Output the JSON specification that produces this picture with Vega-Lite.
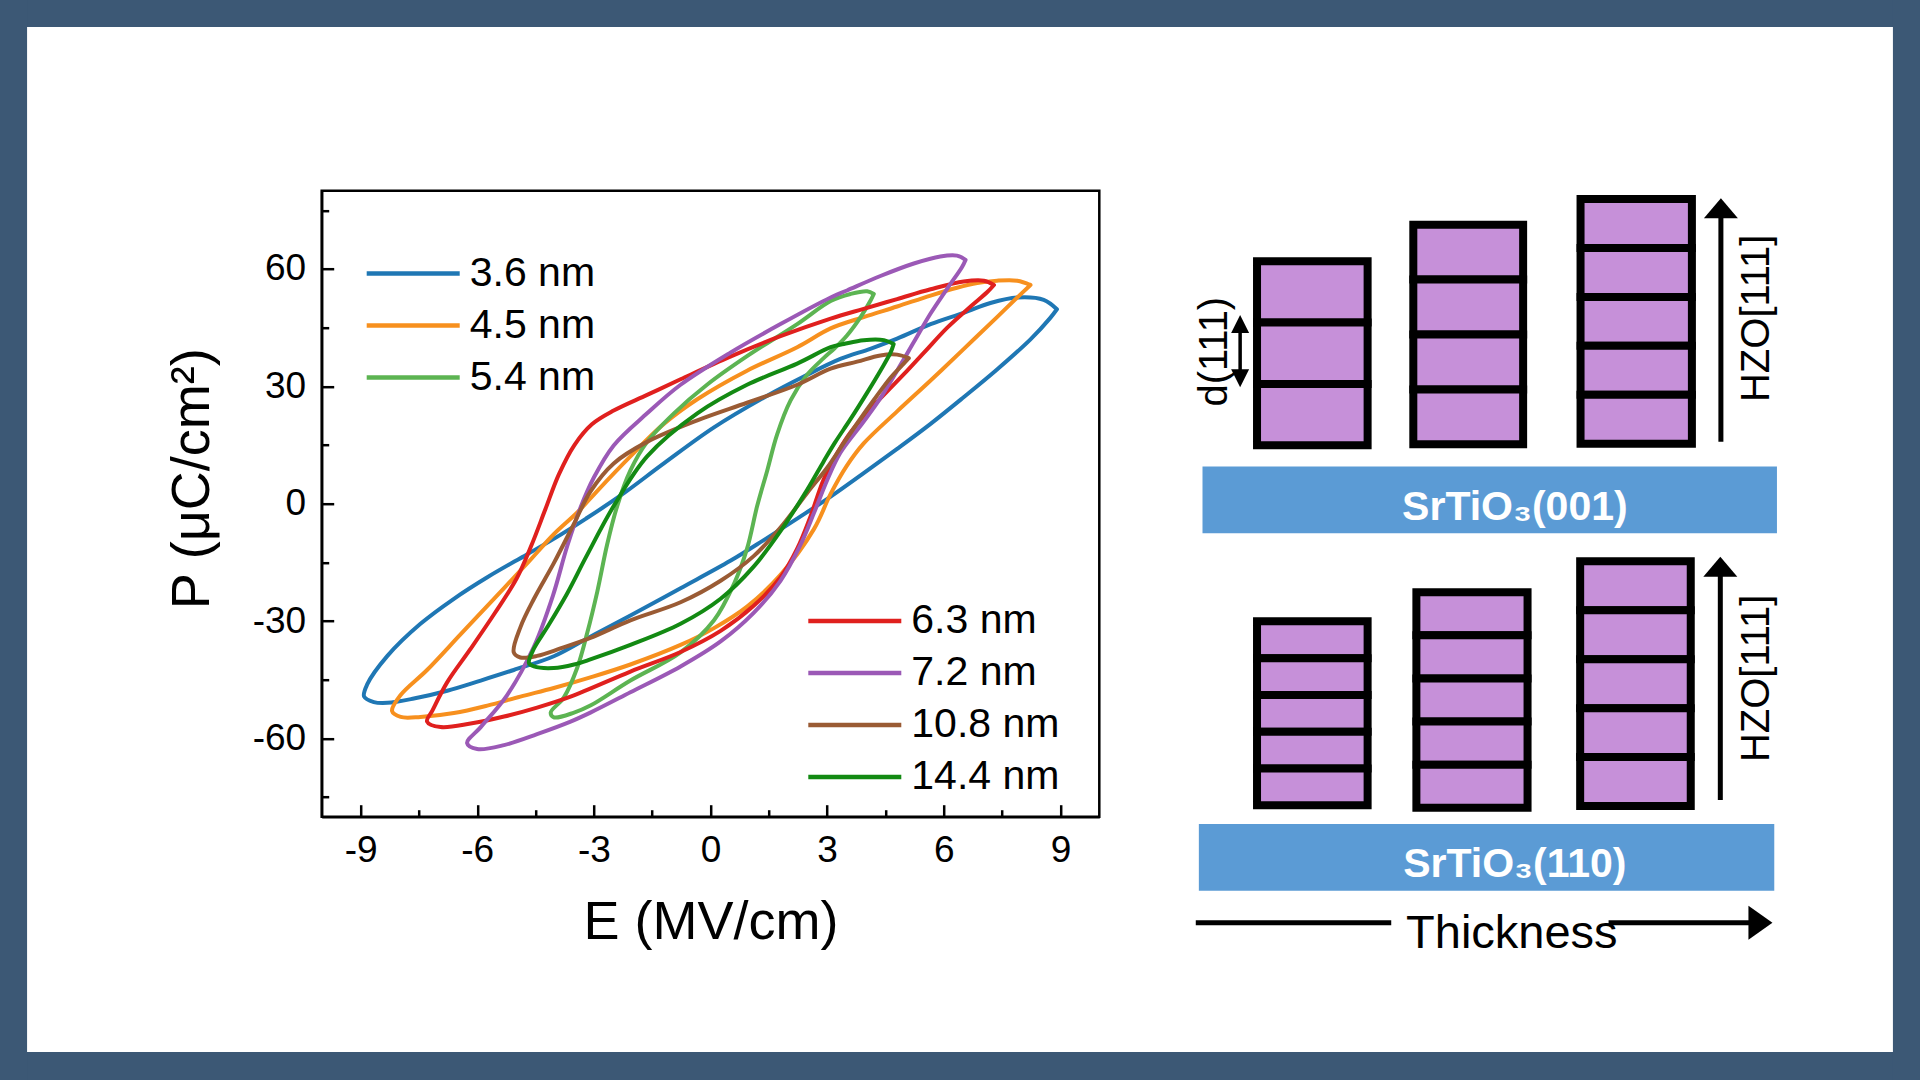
{
  "$schema": "https://vega.github.io/schema/vega-lite/v6.json",
  "width": 777.6,
  "height": 626,
  "autosize": {"type": "none"},
  "padding": {"left": 321.7, "top": 190.7, "right": 820.7, "bottom": 263.3},
  "background": "white",
  "config": {
    "font": "Liberation Sans",
    "view": {"stroke": "black", "strokeWidth": 2.5},
    "axis": {"zindex": 1, "grid": false}
  },
  "datasets": {
    "page": [
      {"kind": "frame", "x": 0, "x2": 100, "y": 0, "y2": 2.5},
      {"kind": "frame", "x": 0, "x2": 100, "y": 97.41, "y2": 100},
      {"kind": "frame", "x": 0, "x2": 1.41, "y": 0, "y2": 100},
      {"kind": "frame", "x": 98.59, "x2": 100, "y": 0, "y2": 100},
      {"kind": "substrate", "x": 62.63, "x2": 92.55, "y": 43.19, "y2": 49.38},
      {"kind": "substrate", "x": 62.44, "x2": 92.41, "y": 76.30, "y2": 82.47},
      {"kind": "cell", "x": 65.47, "x2": 71.23, "y": 24.19, "y2": 29.87},
      {"kind": "cell", "x": 65.47, "x2": 71.23, "y": 29.87, "y2": 35.55},
      {"kind": "cell", "x": 65.47, "x2": 71.23, "y": 35.55, "y2": 41.23},
      {"kind": "cell", "x": 73.61, "x2": 79.33, "y": 20.81, "y2": 25.89},
      {"kind": "cell", "x": 73.61, "x2": 79.33, "y": 25.89, "y2": 30.97},
      {"kind": "cell", "x": 73.61, "x2": 79.33, "y": 30.97, "y2": 36.06},
      {"kind": "cell", "x": 73.61, "x2": 79.33, "y": 36.06, "y2": 41.14},
      {"kind": "cell", "x": 82.32, "x2": 88.12, "y": 18.43, "y2": 22.96},
      {"kind": "cell", "x": 82.32, "x2": 88.12, "y": 22.96, "y2": 27.49},
      {"kind": "cell", "x": 82.32, "x2": 88.12, "y": 27.49, "y2": 32.02},
      {"kind": "cell", "x": 82.32, "x2": 88.12, "y": 32.02, "y2": 36.55},
      {"kind": "cell", "x": 82.32, "x2": 88.12, "y": 36.55, "y2": 41.08},
      {"kind": "cell", "x": 65.47, "x2": 71.23, "y": 57.53, "y2": 60.94},
      {"kind": "cell", "x": 65.47, "x2": 71.23, "y": 60.94, "y2": 64.34},
      {"kind": "cell", "x": 65.47, "x2": 71.23, "y": 64.34, "y2": 67.75},
      {"kind": "cell", "x": 65.47, "x2": 71.23, "y": 67.75, "y2": 71.16},
      {"kind": "cell", "x": 65.47, "x2": 71.23, "y": 71.16, "y2": 74.56},
      {"kind": "cell", "x": 73.77, "x2": 79.56, "y": 54.84, "y2": 58.83},
      {"kind": "cell", "x": 73.77, "x2": 79.56, "y": 58.83, "y2": 62.82},
      {"kind": "cell", "x": 73.77, "x2": 79.56, "y": 62.82, "y2": 66.81},
      {"kind": "cell", "x": 73.77, "x2": 79.56, "y": 66.81, "y2": 70.80},
      {"kind": "cell", "x": 73.77, "x2": 79.56, "y": 70.80, "y2": 74.79},
      {"kind": "cell", "x": 82.30, "x2": 88.06, "y": 51.97, "y2": 56.50},
      {"kind": "cell", "x": 82.30, "x2": 88.06, "y": 56.50, "y2": 61.04},
      {"kind": "cell", "x": 82.30, "x2": 88.06, "y": 61.04, "y2": 65.57},
      {"kind": "cell", "x": 82.30, "x2": 88.06, "y": 65.57, "y2": 70.10},
      {"kind": "cell", "x": 82.30, "x2": 88.06, "y": 70.10, "y2": 74.63},
      {"kind": "shaft", "x": 89.63, "x2": 89.63, "y": 40.90, "y2": 19.5},
      {"kind": "shaft", "x": 89.60, "x2": 89.60, "y": 74.07, "y2": 52.7},
      {"kind": "shaft", "x": 62.28, "x2": 72.46, "y": 85.44, "y2": 85.44},
      {"kind": "shaft", "x": 83.78, "x2": 91.6, "y": 85.44, "y2": 85.44},
      {"kind": "dshaft", "x": 64.59, "x2": 64.59, "y": 30.2, "y2": 34.8},
      {"kind": "head", "dir": "up", "x": 89.63, "y": 19.29},
      {"kind": "head", "dir": "up", "x": 89.60, "y": 52.47},
      {"kind": "head", "dir": "dup", "x": 64.59, "y": 30.0},
      {"kind": "head", "dir": "ddown", "x": 64.59, "y": 35.03},
      {"kind": "head", "dir": "right", "x": 91.69, "y": 85.44},
      {"kind": "sub", "x": 78.90, "y": 48.15, "text": "SrTiO₃(001)"},
      {"kind": "sub", "x": 78.90, "y": 81.18, "text": "SrTiO₃(110)"},
      {"kind": "vert", "x": 63.3, "y": 32.56, "text": "d(111)"},
      {"kind": "vert", "x": 91.5, "y": 29.47, "text": "HZO[111]"},
      {"kind": "vert", "x": 91.5, "y": 62.81, "text": "HZO[111]"},
      {"kind": "caption", "x": 78.74, "y": 87.81, "text": "Thickness"}
    ],
    "loops": [
      {"s": "3.6 nm", "i": 0, "E": 8.91, "P": 49.7},
      {"s": "3.6 nm", "i": 1, "E": 8.57, "P": 52.1},
      {"s": "3.6 nm", "i": 2, "E": 7.89, "P": 52.7},
      {"s": "3.6 nm", "i": 3, "E": 7.20, "P": 51.3},
      {"s": "3.6 nm", "i": 4, "E": 6.51, "P": 48.8},
      {"s": "3.6 nm", "i": 5, "E": 5.66, "P": 45.9},
      {"s": "3.6 nm", "i": 6, "E": 4.80, "P": 42.2},
      {"s": "3.6 nm", "i": 7, "E": 4.11, "P": 39.6},
      {"s": "3.6 nm", "i": 8, "E": 3.34, "P": 37.0},
      {"s": "3.6 nm", "i": 9, "E": 2.40, "P": 32.5},
      {"s": "3.6 nm", "i": 10, "E": 1.46, "P": 27.6},
      {"s": "3.6 nm", "i": 11, "E": 0.09, "P": 19.5},
      {"s": "3.6 nm", "i": 12, "E": -1.20, "P": 10.3},
      {"s": "3.6 nm", "i": 13, "E": -2.31, "P": 2.1},
      {"s": "3.6 nm", "i": 14, "E": -3.2, "P": -3.8},
      {"s": "3.6 nm", "i": 15, "E": -4.0, "P": -8.8},
      {"s": "3.6 nm", "i": 16, "E": -4.71, "P": -12.9},
      {"s": "3.6 nm", "i": 17, "E": -5.74, "P": -18.8},
      {"s": "3.6 nm", "i": 18, "E": -6.60, "P": -24.3},
      {"s": "3.6 nm", "i": 19, "E": -7.46, "P": -30.7},
      {"s": "3.6 nm", "i": 20, "E": -8.31, "P": -38.9},
      {"s": "3.6 nm", "i": 21, "E": -8.83, "P": -46.2},
      {"s": "3.6 nm", "i": 22, "E": -8.91, "P": -49.3},
      {"s": "3.6 nm", "i": 23, "E": -8.66, "P": -50.7},
      {"s": "3.6 nm", "i": 24, "E": -8.31, "P": -50.9},
      {"s": "3.6 nm", "i": 25, "E": -7.63, "P": -49.8},
      {"s": "3.6 nm", "i": 26, "E": -6.77, "P": -47.8},
      {"s": "3.6 nm", "i": 27, "E": -5.91, "P": -45.2},
      {"s": "3.6 nm", "i": 28, "E": -5.06, "P": -42.5},
      {"s": "3.6 nm", "i": 29, "E": -4.03, "P": -39.0},
      {"s": "3.6 nm", "i": 30, "E": -3.09, "P": -34.0},
      {"s": "3.6 nm", "i": 31, "E": -2.06, "P": -28.6},
      {"s": "3.6 nm", "i": 32, "E": -0.77, "P": -21.6},
      {"s": "3.6 nm", "i": 33, "E": 0.51, "P": -14.6},
      {"s": "3.6 nm", "i": 34, "E": 1.37, "P": -9.3},
      {"s": "3.6 nm", "i": 35, "E": 2.23, "P": -3.8},
      {"s": "3.6 nm", "i": 36, "E": 3.09, "P": 1.8},
      {"s": "3.6 nm", "i": 37, "E": 3.94, "P": 7.8},
      {"s": "3.6 nm", "i": 38, "E": 4.80, "P": 14.0},
      {"s": "3.6 nm", "i": 39, "E": 5.66, "P": 20.4},
      {"s": "3.6 nm", "i": 40, "E": 6.51, "P": 27.2},
      {"s": "3.6 nm", "i": 41, "E": 7.37, "P": 34.3},
      {"s": "3.6 nm", "i": 42, "E": 8.23, "P": 42.0},
      {"s": "3.6 nm", "i": 43, "E": 8.74, "P": 47.5},
      {"s": "3.6 nm", "i": 44, "E": 8.91, "P": 49.7},

      {"s": "4.5 nm", "i": 0, "E": 8.23, "P": 55.9},
      {"s": "4.5 nm", "i": 1, "E": 7.89, "P": 57.0},
      {"s": "4.5 nm", "i": 2, "E": 7.37, "P": 57.0},
      {"s": "4.5 nm", "i": 3, "E": 6.86, "P": 56.4},
      {"s": "4.5 nm", "i": 4, "E": 6.34, "P": 55.2},
      {"s": "4.5 nm", "i": 5, "E": 5.66, "P": 53.2},
      {"s": "4.5 nm", "i": 6, "E": 4.80, "P": 50.4},
      {"s": "4.5 nm", "i": 7, "E": 3.94, "P": 47.7},
      {"s": "4.5 nm", "i": 8, "E": 3.09, "P": 44.8},
      {"s": "4.5 nm", "i": 9, "E": 2.23, "P": 40.0},
      {"s": "4.5 nm", "i": 10, "E": 0.94, "P": 34.0},
      {"s": "4.5 nm", "i": 11, "E": -0.34, "P": 26.7},
      {"s": "4.5 nm", "i": 12, "E": -1.20, "P": 20.4},
      {"s": "4.5 nm", "i": 13, "E": -2.06, "P": 12.1},
      {"s": "4.5 nm", "i": 14, "E": -2.91, "P": 3.3},
      {"s": "4.5 nm", "i": 15, "E": -3.40, "P": -2.0},
      {"s": "4.5 nm", "i": 16, "E": -4.03, "P": -7.8},
      {"s": "4.5 nm", "i": 17, "E": -4.71, "P": -15.2},
      {"s": "4.5 nm", "i": 18, "E": -5.57, "P": -24.3},
      {"s": "4.5 nm", "i": 19, "E": -6.43, "P": -33.4},
      {"s": "4.5 nm", "i": 20, "E": -7.29, "P": -42.5},
      {"s": "4.5 nm", "i": 21, "E": -7.97, "P": -48.9},
      {"s": "4.5 nm", "i": 22, "E": -8.19, "P": -53.0},
      {"s": "4.5 nm", "i": 23, "E": -7.97, "P": -54.5},
      {"s": "4.5 nm", "i": 24, "E": -7.46, "P": -54.5},
      {"s": "4.5 nm", "i": 25, "E": -6.60, "P": -53.5},
      {"s": "4.5 nm", "i": 26, "E": -5.74, "P": -51.6},
      {"s": "4.5 nm", "i": 27, "E": -4.89, "P": -49.3},
      {"s": "4.5 nm", "i": 28, "E": -4.03, "P": -47.1},
      {"s": "4.5 nm", "i": 29, "E": -3.09, "P": -44.4},
      {"s": "4.5 nm", "i": 30, "E": -2.06, "P": -41.1},
      {"s": "4.5 nm", "i": 31, "E": -0.77, "P": -36.1},
      {"s": "4.5 nm", "i": 32, "E": 0.09, "P": -31.8},
      {"s": "4.5 nm", "i": 33, "E": 0.94, "P": -26.3},
      {"s": "4.5 nm", "i": 34, "E": 1.80, "P": -18.2},
      {"s": "4.5 nm", "i": 35, "E": 2.66, "P": -6.5},
      {"s": "4.5 nm", "i": 36, "E": 3.09, "P": 2.5},
      {"s": "4.5 nm", "i": 37, "E": 3.50, "P": 9.6},
      {"s": "4.5 nm", "i": 38, "E": 3.94, "P": 15.4},
      {"s": "4.5 nm", "i": 39, "E": 4.80, "P": 23.6},
      {"s": "4.5 nm", "i": 40, "E": 5.66, "P": 31.5},
      {"s": "4.5 nm", "i": 41, "E": 6.51, "P": 39.5},
      {"s": "4.5 nm", "i": 42, "E": 7.37, "P": 47.7},
      {"s": "4.5 nm", "i": 43, "E": 7.89, "P": 52.7},
      {"s": "4.5 nm", "i": 44, "E": 8.23, "P": 55.9},

      {"s": "5.4 nm", "i": 0, "E": 4.20, "P": 53.6},
      {"s": "5.4 nm", "i": 1, "E": 4.03, "P": 54.3},
      {"s": "5.4 nm", "i": 2, "E": 3.60, "P": 53.6},
      {"s": "5.4 nm", "i": 3, "E": 3.09, "P": 51.8},
      {"s": "5.4 nm", "i": 4, "E": 2.23, "P": 45.9},
      {"s": "5.4 nm", "i": 5, "E": 0.94, "P": 37.7},
      {"s": "5.4 nm", "i": 6, "E": -0.09, "P": 30.4},
      {"s": "5.4 nm", "i": 7, "E": -0.94, "P": 23.1},
      {"s": "5.4 nm", "i": 8, "E": -1.63, "P": 15.8},
      {"s": "5.4 nm", "i": 9, "E": -2.06, "P": 8.5},
      {"s": "5.4 nm", "i": 10, "E": -2.40, "P": -0.6},
      {"s": "5.4 nm", "i": 11, "E": -2.66, "P": -10.5},
      {"s": "5.4 nm", "i": 12, "E": -2.91, "P": -22.4},
      {"s": "5.4 nm", "i": 13, "E": -3.17, "P": -33.0},
      {"s": "5.4 nm", "i": 14, "E": -3.43, "P": -42.0},
      {"s": "5.4 nm", "i": 15, "E": -3.77, "P": -49.5},
      {"s": "5.4 nm", "i": 16, "E": -4.11, "P": -53.4},
      {"s": "5.4 nm", "i": 17, "E": -4.03, "P": -54.6},
      {"s": "5.4 nm", "i": 18, "E": -3.51, "P": -53.4},
      {"s": "5.4 nm", "i": 19, "E": -3.09, "P": -51.6},
      {"s": "5.4 nm", "i": 20, "E": -2.06, "P": -45.2},
      {"s": "5.4 nm", "i": 21, "E": -0.77, "P": -38.0},
      {"s": "5.4 nm", "i": 22, "E": 0.09, "P": -29.8},
      {"s": "5.4 nm", "i": 23, "E": 0.60, "P": -20.6},
      {"s": "5.4 nm", "i": 24, "E": 0.94, "P": -11.5},
      {"s": "5.4 nm", "i": 25, "E": 1.20, "P": -0.6},
      {"s": "5.4 nm", "i": 26, "E": 1.46, "P": 8.5},
      {"s": "5.4 nm", "i": 27, "E": 1.71, "P": 17.6},
      {"s": "5.4 nm", "i": 28, "E": 2.06, "P": 26.4},
      {"s": "5.4 nm", "i": 29, "E": 2.49, "P": 33.0},
      {"s": "5.4 nm", "i": 30, "E": 2.91, "P": 37.2},
      {"s": "5.4 nm", "i": 31, "E": 3.20, "P": 39.8},
      {"s": "5.4 nm", "i": 32, "E": 3.51, "P": 43.0},
      {"s": "5.4 nm", "i": 33, "E": 3.86, "P": 47.7},
      {"s": "5.4 nm", "i": 34, "E": 4.11, "P": 51.8},
      {"s": "5.4 nm", "i": 35, "E": 4.20, "P": 53.6},

      {"s": "6.3 nm", "i": 0, "E": 7.29, "P": 55.9},
      {"s": "6.3 nm", "i": 1, "E": 7.03, "P": 57.0},
      {"s": "6.3 nm", "i": 2, "E": 6.51, "P": 56.8},
      {"s": "6.3 nm", "i": 3, "E": 5.66, "P": 54.8},
      {"s": "6.3 nm", "i": 4, "E": 4.80, "P": 52.3},
      {"s": "6.3 nm", "i": 5, "E": 3.94, "P": 49.8},
      {"s": "6.3 nm", "i": 6, "E": 3.09, "P": 47.3},
      {"s": "6.3 nm", "i": 7, "E": 1.80, "P": 42.8},
      {"s": "6.3 nm", "i": 8, "E": 0.51, "P": 37.6},
      {"s": "6.3 nm", "i": 9, "E": -0.77, "P": 31.8},
      {"s": "6.3 nm", "i": 10, "E": -1.63, "P": 27.8},
      {"s": "6.3 nm", "i": 11, "E": -2.49, "P": 23.8},
      {"s": "6.3 nm", "i": 12, "E": -3.05, "P": 20.3},
      {"s": "6.3 nm", "i": 13, "E": -3.50, "P": 15.0},
      {"s": "6.3 nm", "i": 14, "E": -3.90, "P": 7.5},
      {"s": "6.3 nm", "i": 15, "E": -4.25, "P": -1.5},
      {"s": "6.3 nm", "i": 16, "E": -4.60, "P": -10.5},
      {"s": "6.3 nm", "i": 17, "E": -4.98, "P": -19.0},
      {"s": "6.3 nm", "i": 18, "E": -5.55, "P": -28.0},
      {"s": "6.3 nm", "i": 19, "E": -6.20, "P": -37.5},
      {"s": "6.3 nm", "i": 20, "E": -6.77, "P": -45.6},
      {"s": "6.3 nm", "i": 21, "E": -7.15, "P": -52.8},
      {"s": "6.3 nm", "i": 22, "E": -7.29, "P": -55.7},
      {"s": "6.3 nm", "i": 23, "E": -6.94, "P": -57.1},
      {"s": "6.3 nm", "i": 24, "E": -6.17, "P": -56.2},
      {"s": "6.3 nm", "i": 25, "E": -5.31, "P": -54.4},
      {"s": "6.3 nm", "i": 26, "E": -4.46, "P": -52.1},
      {"s": "6.3 nm", "i": 27, "E": -3.60, "P": -49.3},
      {"s": "6.3 nm", "i": 28, "E": -2.06, "P": -42.9},
      {"s": "6.3 nm", "i": 29, "E": -0.77, "P": -37.9},
      {"s": "6.3 nm", "i": 30, "E": 0.26, "P": -32.5},
      {"s": "6.3 nm", "i": 31, "E": 1.11, "P": -26.1},
      {"s": "6.3 nm", "i": 32, "E": 1.80, "P": -18.8},
      {"s": "6.3 nm", "i": 33, "E": 2.23, "P": -11.5},
      {"s": "6.3 nm", "i": 34, "E": 2.57, "P": -3.3},
      {"s": "6.3 nm", "i": 35, "E": 2.91, "P": 6.2},
      {"s": "6.3 nm", "i": 36, "E": 3.30, "P": 13.6},
      {"s": "6.3 nm", "i": 37, "E": 3.60, "P": 18.2},
      {"s": "6.3 nm", "i": 38, "E": 4.11, "P": 24.2},
      {"s": "6.3 nm", "i": 39, "E": 4.80, "P": 31.3},
      {"s": "6.3 nm", "i": 40, "E": 5.49, "P": 38.6},
      {"s": "6.3 nm", "i": 41, "E": 6.09, "P": 45.0},
      {"s": "6.3 nm", "i": 42, "E": 6.69, "P": 50.4},
      {"s": "6.3 nm", "i": 43, "E": 7.12, "P": 54.1},
      {"s": "6.3 nm", "i": 44, "E": 7.29, "P": 55.9},

      {"s": "7.2 nm", "i": 0, "E": 6.56, "P": 62.3},
      {"s": "7.2 nm", "i": 1, "E": 6.34, "P": 63.4},
      {"s": "7.2 nm", "i": 2, "E": 5.91, "P": 63.2},
      {"s": "7.2 nm", "i": 3, "E": 5.23, "P": 61.4},
      {"s": "7.2 nm", "i": 4, "E": 4.37, "P": 58.2},
      {"s": "7.2 nm", "i": 5, "E": 3.51, "P": 54.5},
      {"s": "7.2 nm", "i": 6, "E": 3.09, "P": 52.7},
      {"s": "7.2 nm", "i": 7, "E": 1.80, "P": 45.9},
      {"s": "7.2 nm", "i": 8, "E": 0.51, "P": 38.6},
      {"s": "7.2 nm", "i": 9, "E": -0.77, "P": 30.4},
      {"s": "7.2 nm", "i": 10, "E": -1.63, "P": 23.1},
      {"s": "7.2 nm", "i": 11, "E": -2.49, "P": 14.9},
      {"s": "7.2 nm", "i": 12, "E": -3.0, "P": 6.7},
      {"s": "7.2 nm", "i": 13, "E": -3.34, "P": -0.9},
      {"s": "7.2 nm", "i": 14, "E": -3.69, "P": -11.0},
      {"s": "7.2 nm", "i": 15, "E": -4.05, "P": -23.4},
      {"s": "7.2 nm", "i": 16, "E": -4.54, "P": -36.5},
      {"s": "7.2 nm", "i": 17, "E": -5.23, "P": -48.9},
      {"s": "7.2 nm", "i": 18, "E": -5.91, "P": -57.1},
      {"s": "7.2 nm", "i": 19, "E": -6.26, "P": -61.2},
      {"s": "7.2 nm", "i": 20, "E": -6.0, "P": -62.7},
      {"s": "7.2 nm", "i": 21, "E": -5.31, "P": -61.7},
      {"s": "7.2 nm", "i": 22, "E": -4.46, "P": -58.9},
      {"s": "7.2 nm", "i": 23, "E": -3.60, "P": -55.7},
      {"s": "7.2 nm", "i": 24, "E": -3.09, "P": -53.4},
      {"s": "7.2 nm", "i": 25, "E": -2.06, "P": -48.2},
      {"s": "7.2 nm", "i": 26, "E": -0.77, "P": -41.6},
      {"s": "7.2 nm", "i": 27, "E": 0.26, "P": -35.2},
      {"s": "7.2 nm", "i": 28, "E": 1.11, "P": -27.9},
      {"s": "7.2 nm", "i": 29, "E": 1.80, "P": -19.7},
      {"s": "7.2 nm", "i": 30, "E": 2.31, "P": -10.6},
      {"s": "7.2 nm", "i": 31, "E": 2.66, "P": -2.4},
      {"s": "7.2 nm", "i": 32, "E": 3.0, "P": 6.0},
      {"s": "7.2 nm", "i": 33, "E": 3.34, "P": 13.0},
      {"s": "7.2 nm", "i": 34, "E": 3.94, "P": 21.0},
      {"s": "7.2 nm", "i": 35, "E": 4.37, "P": 27.0},
      {"s": "7.2 nm", "i": 36, "E": 4.80, "P": 34.0},
      {"s": "7.2 nm", "i": 37, "E": 5.23, "P": 41.3},
      {"s": "7.2 nm", "i": 38, "E": 5.66, "P": 48.6},
      {"s": "7.2 nm", "i": 39, "E": 6.09, "P": 55.0},
      {"s": "7.2 nm", "i": 40, "E": 6.47, "P": 60.5},
      {"s": "7.2 nm", "i": 41, "E": 6.56, "P": 62.3},

      {"s": "10.8 nm", "i": 0, "E": 5.10, "P": 37.2},
      {"s": "10.8 nm", "i": 1, "E": 4.80, "P": 38.1},
      {"s": "10.8 nm", "i": 2, "E": 4.37, "P": 37.9},
      {"s": "10.8 nm", "i": 3, "E": 3.77, "P": 36.3},
      {"s": "10.8 nm", "i": 4, "E": 3.09, "P": 34.5},
      {"s": "10.8 nm", "i": 5, "E": 2.23, "P": 30.4},
      {"s": "10.8 nm", "i": 6, "E": 0.94, "P": 25.8},
      {"s": "10.8 nm", "i": 7, "E": -0.34, "P": 21.3},
      {"s": "10.8 nm", "i": 8, "E": -1.63, "P": 15.8},
      {"s": "10.8 nm", "i": 9, "E": -2.49, "P": 10.3},
      {"s": "10.8 nm", "i": 10, "E": -3.09, "P": 3.1},
      {"s": "10.8 nm", "i": 11, "E": -3.51, "P": -5.1},
      {"s": "10.8 nm", "i": 12, "E": -4.03, "P": -15.2},
      {"s": "10.8 nm", "i": 13, "E": -4.54, "P": -24.3},
      {"s": "10.8 nm", "i": 14, "E": -4.89, "P": -31.6},
      {"s": "10.8 nm", "i": 15, "E": -5.06, "P": -38.0},
      {"s": "10.8 nm", "i": 16, "E": -4.89, "P": -39.3},
      {"s": "10.8 nm", "i": 17, "E": -4.46, "P": -38.9},
      {"s": "10.8 nm", "i": 18, "E": -3.86, "P": -37.0},
      {"s": "10.8 nm", "i": 19, "E": -3.09, "P": -34.3},
      {"s": "10.8 nm", "i": 20, "E": -2.06, "P": -29.8},
      {"s": "10.8 nm", "i": 21, "E": -0.77, "P": -25.2},
      {"s": "10.8 nm", "i": 22, "E": 0.26, "P": -19.7},
      {"s": "10.8 nm", "i": 23, "E": 1.11, "P": -13.4},
      {"s": "10.8 nm", "i": 24, "E": 1.80, "P": -6.1},
      {"s": "10.8 nm", "i": 25, "E": 2.49, "P": 2.8},
      {"s": "10.8 nm", "i": 26, "E": 3.0, "P": 9.2},
      {"s": "10.8 nm", "i": 27, "E": 3.34, "P": 14.2},
      {"s": "10.8 nm", "i": 28, "E": 3.77, "P": 20.5},
      {"s": "10.8 nm", "i": 29, "E": 4.20, "P": 26.5},
      {"s": "10.8 nm", "i": 30, "E": 4.63, "P": 32.2},
      {"s": "10.8 nm", "i": 31, "E": 4.97, "P": 35.8},
      {"s": "10.8 nm", "i": 32, "E": 5.10, "P": 37.2},

      {"s": "14.4 nm", "i": 0, "E": 4.71, "P": 40.8},
      {"s": "14.4 nm", "i": 1, "E": 4.46, "P": 41.8},
      {"s": "14.4 nm", "i": 2, "E": 3.94, "P": 41.8},
      {"s": "14.4 nm", "i": 3, "E": 3.43, "P": 40.8},
      {"s": "14.4 nm", "i": 4, "E": 3.09, "P": 40.0},
      {"s": "14.4 nm", "i": 5, "E": 2.23, "P": 35.8},
      {"s": "14.4 nm", "i": 6, "E": 0.94, "P": 30.4},
      {"s": "14.4 nm", "i": 7, "E": -0.34, "P": 23.1},
      {"s": "14.4 nm", "i": 8, "E": -1.63, "P": 12.1},
      {"s": "14.4 nm", "i": 9, "E": -2.49, "P": -0.6},
      {"s": "14.4 nm", "i": 10, "E": -3.2, "P": -13.6},
      {"s": "14.4 nm", "i": 11, "E": -3.69, "P": -23.0},
      {"s": "14.4 nm", "i": 12, "E": -4.20, "P": -31.6},
      {"s": "14.4 nm", "i": 13, "E": -4.54, "P": -37.0},
      {"s": "14.4 nm", "i": 14, "E": -4.67, "P": -40.7},
      {"s": "14.4 nm", "i": 15, "E": -4.54, "P": -41.6},
      {"s": "14.4 nm", "i": 16, "E": -4.03, "P": -42.0},
      {"s": "14.4 nm", "i": 17, "E": -3.51, "P": -41.1},
      {"s": "14.4 nm", "i": 18, "E": -3.09, "P": -39.8},
      {"s": "14.4 nm", "i": 19, "E": -2.06, "P": -36.1},
      {"s": "14.4 nm", "i": 20, "E": -0.77, "P": -30.7},
      {"s": "14.4 nm", "i": 21, "E": 0.26, "P": -24.3},
      {"s": "14.4 nm", "i": 22, "E": 1.11, "P": -16.1},
      {"s": "14.4 nm", "i": 23, "E": 1.80, "P": -7.0},
      {"s": "14.4 nm", "i": 24, "E": 2.49, "P": 3.6},
      {"s": "14.4 nm", "i": 25, "E": 2.91, "P": 10.8},
      {"s": "14.4 nm", "i": 26, "E": 3.2, "P": 15.6},
      {"s": "14.4 nm", "i": 27, "E": 3.60, "P": 21.6},
      {"s": "14.4 nm", "i": 28, "E": 4.03, "P": 28.4},
      {"s": "14.4 nm", "i": 29, "E": 4.37, "P": 34.0},
      {"s": "14.4 nm", "i": 30, "E": 4.63, "P": 38.6},
      {"s": "14.4 nm", "i": 31, "E": 4.71, "P": 40.8}
    ]
  },
  "layer": [
    {
      "data": {"name": "page"},
      "encoding": {
        "x": {"field": "x", "type": "quantitative", "axis": null,
              "scale": {"domain": [16.7552, 57.2552], "nice": false, "zero": false}},
        "y": {"field": "y", "type": "quantitative", "axis": null,
              "scale": {"domain": [17.657, 75.62], "reverse": true, "nice": false, "zero": false}}
      },
      "layer": [
        {
          "transform": [{"filter": "datum.kind === 'frame'"}],
          "mark": {"type": "rect", "fill": "#3c5875"},
          "encoding": {"x2": {"field": "x2"}, "y2": {"field": "y2"}}
        },
        {
          "transform": [{"filter": "datum.kind === 'substrate'"}],
          "mark": {"type": "rect", "fill": "#5b9bd5"},
          "encoding": {"x2": {"field": "x2"}, "y2": {"field": "y2"}}
        },
        {
          "transform": [{"filter": "datum.kind === 'cell'"}],
          "mark": {"type": "rect", "fill": "#c690d9", "stroke": "black", "strokeWidth": 8},
          "encoding": {"x2": {"field": "x2"}, "y2": {"field": "y2"}}
        },
        {
          "transform": [{"filter": "datum.kind === 'shaft'"}],
          "mark": {"type": "rule", "color": "black", "strokeWidth": 5},
          "encoding": {"x2": {"field": "x2"}, "y2": {"field": "y2"}}
        },
        {
          "transform": [{"filter": "datum.kind === 'dshaft'"}],
          "mark": {"type": "rule", "color": "black", "strokeWidth": 3.5},
          "encoding": {"x2": {"field": "x2"}, "y2": {"field": "y2"}}
        },
        {
          "transform": [{"filter": "datum.kind === 'head'"}],
          "mark": {"type": "point", "filled": true, "color": "black", "size": 400, "opacity": 1},
          "encoding": {
            "shape": {"field": "dir", "type": "nominal", "legend": null,
              "scale": {"domain": ["up", "dup", "ddown", "right"],
                        "range": ["M-1.7,1L0,-1L1.7,1Z", "M-0.9,0.9L0,-0.9L0.9,0.9Z", "M-0.9,-0.9L0,0.9L0.9,-0.9Z", "M-1.2,-1.7L1.2,0L-1.2,1.7Z"]}}
          }
        },
        {
          "transform": [{"filter": "datum.kind === 'sub'"}],
          "mark": {"type": "text", "color": "white", "fontWeight": "bold", "fontSize": 41, "align": "center", "baseline": "alphabetic"},
          "encoding": {"text": {"field": "text"}}
        },
        {
          "transform": [{"filter": "datum.kind === 'vert'"}],
          "mark": {"type": "text", "color": "black", "fontSize": 40, "angle": 270, "align": "center", "baseline": "middle"},
          "encoding": {"text": {"field": "text"}}
        },
        {
          "transform": [{"filter": "datum.kind === 'caption'"}],
          "mark": {"type": "text", "color": "black", "fontSize": 47, "align": "center", "baseline": "alphabetic"},
          "encoding": {"text": {"field": "text"}}
        }
      ]
    },
    {
      "data": {"name": "loops"},
      "encoding": {
        "x": {
          "field": "E", "type": "quantitative",
          "scale": {"domain": [-10, 10], "nice": false, "zero": false},
          "axis": {
            "orient": "bottom",
            "values": [-9, -7.5, -6, -4.5, -3, -1.5, 0, 1.5, 3, 4.5, 6, 7.5, 9],
            "labelExpr": "datum.value % 3 === 0 ? '' + datum.value : ''",
            "tickSize": {"condition": {"test": "datum.value % 3 === 0", "value": -12}, "value": -7},
            "tickWidth": 2.5, "tickColor": "black",
            "domainColor": "black", "domainWidth": 2.5,
            "labelFontSize": 37, "labelColor": "black", "labelPadding": 28,
            "labelFlush": false, "labelOverlap": false,
            "title": "E (MV/cm)", "titleFontSize": 54, "titleFontWeight": "normal", "titleColor": "black",
            "titleBaseline": "alphabetic", "titleY": 121.6, "titleX": 388.8
          }
        },
        "y": {
          "field": "P", "type": "quantitative",
          "scale": {"domain": [-80, 80], "nice": false, "zero": false},
          "axis": {
            "orient": "left",
            "values": [-75, -60, -45, -30, -15, 0, 15, 30, 45, 60, 75],
            "labelExpr": "datum.value % 30 === 0 ? '' + datum.value : ''",
            "tickSize": {"condition": {"test": "datum.value % 30 === 0", "value": -12}, "value": -7},
            "tickWidth": 2.5, "tickColor": "black",
            "domainColor": "black", "domainWidth": 2.5,
            "labelFontSize": 37, "labelColor": "black", "labelPadding": 28,
            "labelFlush": false, "labelOverlap": false,
            "title": "P (μC/cm²)", "titleFontSize": 54, "titleFontWeight": "normal", "titleColor": "black",
            "titleAngle": 270, "titleBaseline": "alphabetic", "titleAlign": "center",
            "titleX": -113, "titleY": 287.6
          }
        },
        "order": {"field": "i", "type": "quantitative"}
      },
      "layer": [
        {
          "transform": [{"filter": {"field": "s", "oneOf": ["3.6 nm", "4.5 nm", "5.4 nm"]}}],
          "mark": {"type": "line", "strokeWidth": 4, "strokeJoin": "round", "strokeCap": "round", "interpolate": "catmull-rom"},
          "encoding": {
            "color": {
              "field": "s", "type": "nominal",
              "scale": {"domain": ["3.6 nm", "4.5 nm", "5.4 nm"], "range": ["#1f77b4", "#f7901e", "#5cb452"]},
              "legend": {
                "title": null, "orient": "none", "legendX": 45, "legendY": 62.3, "direction": "vertical",
                "symbolType": "M-23.25,0H23.25", "symbolSize": 16, "symbolStrokeWidth": 4.5, "symbolOffset": 26,
                "labelOffset": 36, "labelFontSize": 41, "labelColor": "black", "labelLimit": 0,
                "rowPadding": 10, "padding": 0
              }
            }
          }
        },
        {
          "transform": [{"filter": {"field": "s", "oneOf": ["6.3 nm", "7.2 nm", "10.8 nm", "14.4 nm"]}}],
          "mark": {"type": "line", "strokeWidth": 4, "strokeJoin": "round", "strokeCap": "round", "interpolate": "catmull-rom"},
          "encoding": {
            "stroke": {
              "field": "s", "type": "nominal",
              "scale": {"domain": ["6.3 nm", "7.2 nm", "10.8 nm", "14.4 nm"], "range": ["#e0201e", "#9b59b6", "#9a5b34", "#138a13"]},
              "legend": {
                "title": null, "orient": "none", "legendX": 486.6, "legendY": 409.8, "direction": "vertical",
                "symbolType": "M-23.25,0H23.25", "symbolSize": 16, "symbolStrokeWidth": 4.5, "symbolOffset": 26,
                "labelOffset": 36, "labelFontSize": 41, "labelColor": "black", "labelLimit": 0,
                "rowPadding": 10, "padding": 0
              }
            }
          }
        }
      ]
    }
  ],
  "resolve": {"scale": {"x": "independent", "y": "independent"}}
}
